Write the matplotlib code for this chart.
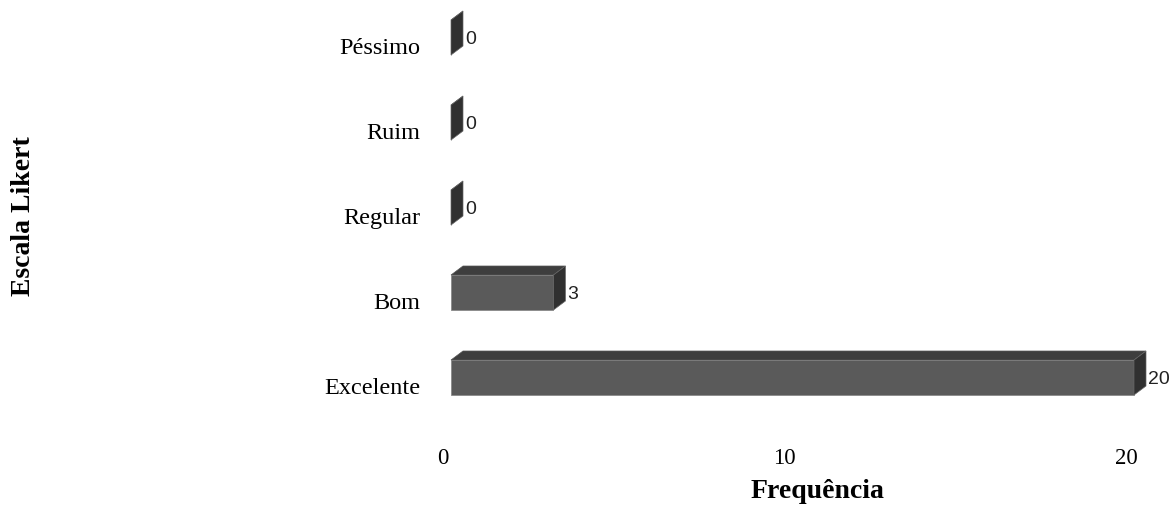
import numpy as np
import matplotlib
matplotlib.use('Agg')
import matplotlib.pyplot as plt
from matplotlib.patches import Polygon


categorias = ['Excelente', 'Bom', 'Regular', 'Ruim', 'Péssimo']
frequencia = [20, 3, 0, 0, 0]
ticks_x = [0, 10, 20]

W, H, DPI = 1169, 506, 100
fig = plt.figure(figsize=(W / DPI, H / DPI), dpi=DPI)

# value 0 and 20 in pixels (from left); axes starts one unit before 0
x0_px, x1_px = 451, 1134
px_x = (x1_px - x0_px) / 20.0   # pixels per unit of frequency
left_px = x0_px - px_x
top_px, bot_px = 10, 430
ax = fig.add_axes([left_px / W, 1 - bot_px / H, (x1_px - left_px) / W, (bot_px - top_px) / H])
# category labels hang off the zero line, not the axes edge
ax.spines['left'].set_position(('data', 0))

px_y = 85.0                     # pixels between categories
first_px = 378.5                # centre of front face of first bar
y_lo = (first_px - bot_px) / px_y
y_hi = (first_px - top_px) / px_y

# 3d box depth and bar height
dx = 12 / px_x
dy = 9 / px_y
h = 35 / px_y

c_front = '#5a5a5a'
c_top = '#3e3e3e'
c_side = '#303030'

pos = np.arange(len(categorias))
for y, v in zip(pos, frequencia):
    yb, yt = y - h / 2, y + h / 2
    front = Polygon([(0, yb), (v, yb), (v, yt), (0, yt)], closed=True,
                    facecolor=c_front, edgecolor='#8a8a8a', linewidth=0.6, clip_on=False)
    top = Polygon([(0, yt), (v, yt), (v + dx, yt + dy), (dx, yt + dy)], closed=True,
                  facecolor=c_top, edgecolor='#555555', linewidth=0.5, clip_on=False)
    side = Polygon([(v, yb), (v + dx, yb + dy), (v + dx, yt + dy), (v, yt)], closed=True,
                   facecolor=c_side, edgecolor='#666666', linewidth=0.5, clip_on=False)
    for p in (front, top, side):
        ax.add_patch(p)
    ax.text(v + dx + 2 / px_x, y - 1 / px_y, str(v), ha='left', va='center',
            fontsize=14, family='Liberation Sans', color='#222222', clip_on=False)

# tick labels sit a little left/below the bar fronts
ax.set_yticks(pos - 8 / px_y)
ax.set_yticklabels(categorias, fontsize=17.5, family='Liberation Serif')
ax.set_xticks(np.array(ticks_x) - 8 / px_x)
ax.set_xticklabels([str(t) for t in ticks_x], fontsize=16.5, family='Liberation Serif')
ax.set_xlim(-1, 20)
ax.set_ylim(y_lo, y_hi)
ax.tick_params(axis='y', length=0, pad=22)
ax.tick_params(axis='x', length=0, pad=13)
for s in ax.spines.values():
    s.set_visible(False)
ax.patch.set_alpha(0)

fig.text(817 / W, 1 - 492 / H, 'Frequência', ha='center', va='center',
         fontsize=20, fontweight='bold', family='Liberation Serif')
fig.text(24 / W, 1 - 216 / H, 'Escala Likert', ha='center', va='center', rotation=90,
         fontsize=20, fontweight='bold', family='Liberation Serif')

fig.savefig('out.png', dpi=DPI, facecolor='white')
